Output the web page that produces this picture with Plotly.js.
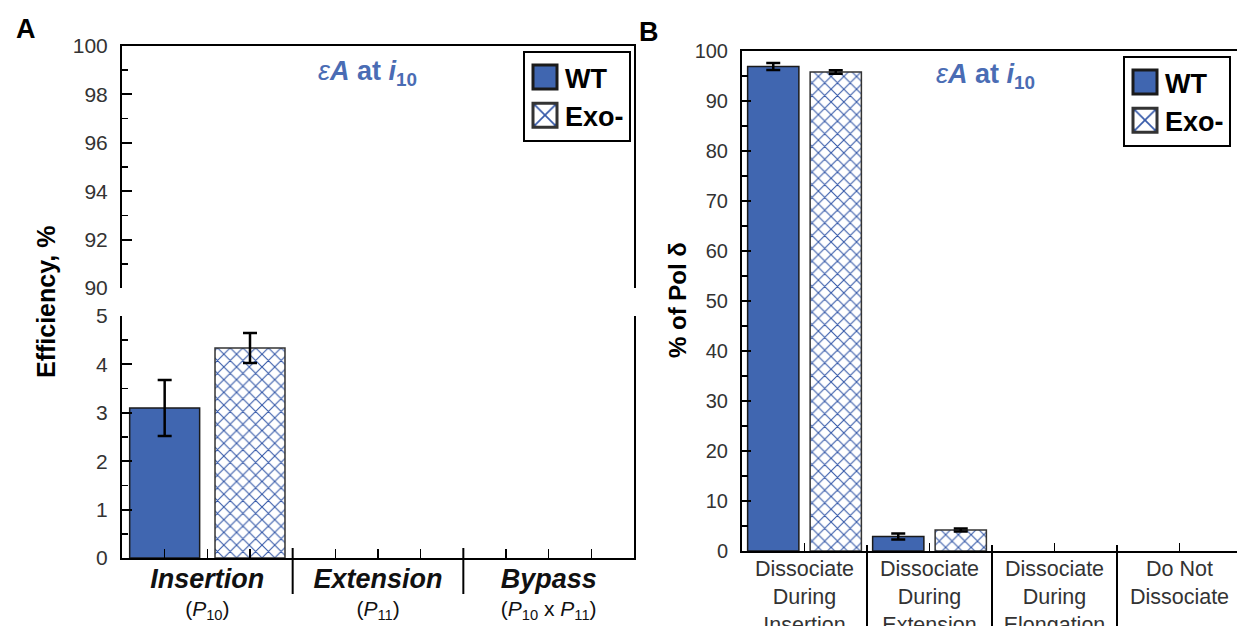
<!DOCTYPE html>
<html><head><meta charset="utf-8">
<script src="https://cdn.plot.ly/plotly-3.0.1.min.js"></script>
<style>html,body{margin:0;padding:0;background:#fff}</style>
</head><body><div id="chart" style="width:1237px;height:626px"></div>
<script>
// ---------- data ----------
const catA = ['Insertion', 'Extension', 'Bypass'];
const catASub = ['(<i>P</i><sub>10</sub>)', '(<i>P</i><sub>11</sub>)', '(<i>P</i><sub>10</sub> x <i>P</i><sub>11</sub>)'];
const wtA = [3.1, null, null];
const wtAErr = [0.58, null, null];
const exoA = [4.34, null, null];
const exoAErr = [0.31, null, null];

const catB = ['Dissociate<br>During<br>Insertion', 'Dissociate<br>During<br>Extension', 'Dissociate<br>During<br>Elongation', 'Do Not<br>Dissociate'];
const wtB = [96.9, 2.9, null, null];
const wtBErr = [0.7, 0.6, null, null];
const exoB = [95.8, 4.2, null, null];
const exoBErr = [0.35, 0.3, null, null];

const seriesNames = ['WT', 'Exo-'];
const panelLabels = ['A', 'B'];
const noteText = '<i>ε</i><b><i>A</i> at <i>i</i><sub>10</sub></b>';
const yTitleA = 'Efficiency, %';
const yTitleB = '% of Pol δ';

// ---------- style ----------
const W = 1237, H = 626;
const px = v => v / W, py = v => 1 - v / H;
const FONT = 'Liberation Sans, Arial, sans-serif';
const BLUE = '#4066b0';
const NOTE = '#4a6cb4';
const EDGE = '#1a1a1a';
const wtMarker = {color: BLUE, line: {color: EDGE, width: 1.5}};
const exoMarker = {color: 'white', line: {color: '#333', width: 1.5},
  pattern: {shape: 'x', fgcolor: '#3458a8', bgcolor: 'white', size: 9, solidity: 0.22, fillmode: 'replace'}};
const err = arr => ({type: 'data', array: arr, visible: true, color: '#000', thickness: 2.5, width: 7});

function bar(x, y, e, marker, name, xa, ya, legend, show) {
  return {type: 'bar', x: x, y: y, error_y: err(e), marker: marker, name: name,
    xaxis: xa, yaxis: ya, legend: legend, showlegend: show, hoverinfo: 'skip'};
}

const traces = [
  bar(catA, wtA, wtAErr, wtMarker, seriesNames[0], 'x', 'y', 'legend', true),
  bar(catA, exoA, exoAErr, exoMarker, seriesNames[1], 'x', 'y', 'legend', true),
  bar(catA, wtA, wtAErr, wtMarker, seriesNames[0], 'x2', 'y2', 'legend', false),
  bar(catA, exoA, exoAErr, exoMarker, seriesNames[1], 'x2', 'y2', 'legend', false),
  bar(catB, wtB, wtBErr, wtMarker, seriesNames[0], 'x3', 'y3', 'legend2', true),
  bar(catB, exoB, exoBErr, exoMarker, seriesNames[1], 'x3', 'y3', 'legend2', true),
  // invisible helper so the sub-tick overlay axis of panel A is drawn
  {type: 'scatter', x: [0], y: [0], xaxis: 'x4', yaxis: 'y', mode: 'markers',
   marker: {opacity: 0}, showlegend: false, hoverinfo: 'skip'}
];

const tickFont = {family: FONT, size: 21, color: '#333'};
const yCommon = {showline: true, linewidth: 2, linecolor: '#000', ticks: 'inside', ticklen: 10, tickwidth: 2,
  tickcolor: '#000', showgrid: false, zeroline: false, tickfont: tickFont, ticklabelstandoff: 8, fixedrange: true};

const domAx = [px(122), px(634)];
const legendCommon = {bgcolor: 'white', bordercolor: '#000', borderwidth: 2,
  font: {family: FONT, size: 27, weight: 'bold', color: '#000'}, tracegroupgap: 0,
  itemclick: false, itemdoubleclick: false};
const layout = {
  width: W, height: H, margin: {l: 0, r: 0, t: 0, b: 0},
  paper_bgcolor: 'white', plot_bgcolor: 'rgba(0,0,0,0)',
  font: {family: FONT, color: '#000'},
  barmode: 'group', bargap: 0, bargroupgap: 0.18,
  xaxis: {domain: domAx, anchor: 'y', type: 'category', range: [-0.5, 2.5], showline: true, linewidth: 2,
    linecolor: '#000', ticks: '', showgrid: false, tickmode: 'array', tickvals: catA,
    ticktext: catA.map((c, i) => '<span style="font-size:27px"><b><i>' + c + '</i></b></span><br>' + catASub[i]),
    tickfont: {family: FONT, size: 21, color: '#111'}, ticklabelstandoff: 3, fixedrange: true},
  xaxis4: {overlaying: 'x', anchor: 'y', type: 'linear', range: [-0.5, 2.5], tickmode: 'linear', tick0: -0.5,
    dtick: 0.25, ticks: 'inside', ticklen: 9, tickwidth: 1.5, tickcolor: '#000', showticklabels: false,
    showline: false, showgrid: false, zeroline: false, fixedrange: true},
  yaxis: Object.assign({}, yCommon, {domain: [py(558), py(316)], anchor: 'x', range: [0, 5], dtick: 1, mirror: true,
    minor: {ticks: 'inside', dtick: 0.5, ticklen: 6, tickwidth: 1.5, tickcolor: '#000', showgrid: false}}),
  xaxis2: {domain: domAx, anchor: 'y2', type: 'category', range: [-0.5, 2.5], side: 'top', showline: true,
    linewidth: 2, linecolor: '#000', ticks: '', showticklabels: false, showgrid: false, fixedrange: true},
  yaxis2: Object.assign({}, yCommon, {domain: [py(288), py(46)], anchor: 'x2', range: [90, 100], dtick: 2, mirror: true,
    minor: {ticks: 'inside', dtick: 1, ticklen: 6, tickwidth: 1.5, tickcolor: '#000', showgrid: false}}),
  xaxis3: {domain: [px(742), 1], anchor: 'y3', type: 'category', range: [-0.5, 3.46], showline: true, mirror: true,
    linewidth: 2, linecolor: '#000', ticks: 'inside', ticklen: 8, tickwidth: 1.5, tickcolor: '#000', showgrid: false,
    tickfont: {family: FONT, size: 21.5, color: '#333'}, ticklabelstandoff: -3, fixedrange: true},
  yaxis3: Object.assign({}, yCommon, {domain: [py(551), py(51)], anchor: 'x3', range: [0, 100], dtick: 10,
    ticklen: 9, tickfont: {family: FONT, size: 20, color: '#333'},
    minor: {ticks: 'inside', dtick: 5, ticklen: 6, tickwidth: 1.5, tickcolor: '#000', showgrid: false}}),
  legend: Object.assign({x: px(631), xanchor: 'right', y: py(51), yanchor: 'top'}, legendCommon),
  legend2: Object.assign({x: px(1123), xanchor: 'left', y: py(56), yanchor: 'top'}, legendCommon),
  shapes: [],
  annotations: [
    {text: '<b>' + panelLabels[0] + '</b>', xref: 'paper', yref: 'paper', x: px(26), y: py(29), showarrow: false,
     font: {family: FONT, size: 27, color: '#000'}, xanchor: 'center', yanchor: 'middle'},
    {text: '<b>' + panelLabels[1] + '</b>', xref: 'paper', yref: 'paper', x: px(649), y: py(32), showarrow: false,
     font: {family: FONT, size: 27, color: '#000'}, xanchor: 'center', yanchor: 'middle'},
    {text: noteText, xref: 'paper', yref: 'paper', x: px(316), y: py(73), showarrow: false,
     font: {family: FONT, size: 27, color: NOTE}, xanchor: 'left', yanchor: 'middle'},
    {text: noteText, xref: 'paper', yref: 'paper', x: px(934), y: py(76), showarrow: false,
     font: {family: FONT, size: 27, color: NOTE}, xanchor: 'left', yanchor: 'middle'},
    {text: '<b>' + yTitleA + '</b>', xref: 'paper', yref: 'paper', x: px(46), y: py(302), showarrow: false,
     textangle: -90, font: {family: FONT, size: 25, color: '#000'}, xanchor: 'center', yanchor: 'middle'},
    {text: '<b>' + yTitleB + '</b>', xref: 'paper', yref: 'paper', x: px(677), y: py(300), showarrow: false,
     textangle: -90, font: {family: FONT, size: 24, color: '#000'}, xanchor: 'center', yanchor: 'middle'}
  ]
};

// category separators derived from category counts
for (let i = 0; i < catA.length - 1; i++) {
  layout.shapes.push({type: 'line', xref: 'x', yref: 'paper', x0: i + 0.5, x1: i + 0.5, y0: py(594), y1: py(548),
    line: {color: '#000', width: 2}});
}
for (let i = 0; i < catB.length - 1; i++) {
  layout.shapes.push({type: 'line', xref: 'x3', yref: 'paper', x0: i + 0.5, x1: i + 0.5, y0: py(640), y1: py(545),
    line: {color: '#000', width: 2}});
}

Plotly.newPlot('chart', traces, layout, {staticPlot: true, displayModeBar: false}).then(gd => {
  gd.querySelectorAll('.legendpoints path').forEach(p => {
    const t = p.getAttribute('transform') || '';
    p.setAttribute('transform', t + ' scale(2)');
  });
});
</script>
</body></html>
